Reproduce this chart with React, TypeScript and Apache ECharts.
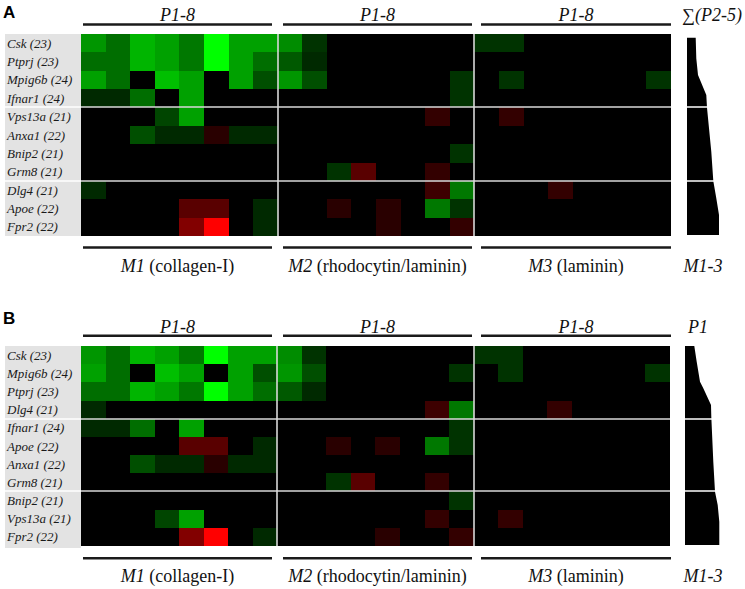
import { useEffect, useRef } from 'react';
import * as echarts from 'echarts';

// ---- categories ----
const matrices = ['M1', 'M2', 'M3'];
const passages = ['P1', 'P2', 'P3', 'P4', 'P5', 'P6', 'P7', 'P8'];
const columns = matrices.flatMap((m) => passages.map((p) => `${m} ${p}`));

// ---- per-gene values (positive = green / up, negative = red / down), 24 columns: M1 P1-8, M2 P1-8, M3 P1-8 ----
const csk = [0.59, 0.43, 0.71, 0.63, 0.47, 1.0, 0.63, 0.63, 0.55, 0.2, 0, 0, 0, 0, 0, 0, 0.2, 0.2, 0, 0, 0, 0, 0, 0];
const ptprj = [0.43, 0.43, 0.71, 0.63, 0.47, 1.0, 0.63, 0.43, 0.35, 0.16, 0, 0, 0, 0, 0, 0, 0, 0, 0, 0, 0, 0, 0, 0];
const mpig6b = [0.63, 0.43, 0, 0.75, 0.63, 0, 0.63, 0.31, 0.59, 0.31, 0, 0, 0, 0, 0, 0.2, 0, 0.2, 0, 0, 0, 0, 0, 0.2];
const ifnar1 = [0.16, 0.16, 0.43, 0, 0.63, 0, 0, 0, 0, 0, 0, 0, 0, 0, 0, 0.2, 0, 0, 0, 0, 0, 0, 0, 0];
const vps13a = [0, 0, 0, 0.27, 0.63, 0, 0, 0, 0, 0, 0, 0, 0, 0, -0.2, 0, 0, -0.2, 0, 0, 0, 0, 0, 0];
const anxa1 = [0, 0, 0.31, 0.16, 0.16, -0.16, 0.16, 0.16, 0, 0, 0, 0, 0, 0, 0, 0, 0, 0, 0, 0, 0, 0, 0, 0];
const bnip2 = [0, 0, 0, 0, 0, 0, 0, 0, 0, 0, 0, 0, 0, 0, 0, 0.2, 0, 0, 0, 0, 0, 0, 0, 0];
const grm8 = [0, 0, 0, 0, 0, 0, 0, 0, 0, 0, 0.2, -0.35, 0, 0, -0.2, 0, 0, 0, 0, 0, 0, 0, 0, 0];
const dlg4 = [0.16, 0, 0, 0, 0, 0, 0, 0, 0, 0, 0, 0, 0, 0, -0.24, 0.47, 0, 0, 0, -0.2, 0, 0, 0, 0];
const apoe = [0, 0, 0, 0, -0.35, -0.35, 0, 0.16, 0, 0, -0.16, 0, -0.16, 0, 0.47, 0.2, 0, 0, 0, 0, 0, 0, 0, 0];
const fpr2 = [0, 0, 0, 0, -0.51, -1.0, 0, 0.16, 0, 0, 0, 0, -0.16, 0, 0, -0.2, 0, 0, 0, 0, 0, 0, 0, 0];

// ---- row order, panel A ----
const labelsA = ['Csk (23)', 'Ptprj (23)', 'Mpig6b (24)', 'Ifnar1 (24)', 'Vps13a (21)', 'Anxa1 (22)', 'Bnip2 (21)', 'Grm8 (21)', 'Dlg4 (21)', 'Apoe (22)', 'Fpr2 (22)'];
const rowsA = [csk, ptprj, mpig6b, ifnar1, vps13a, anxa1, bnip2, grm8, dlg4, apoe, fpr2];
// ---- row order, panel B ----
const labelsB = ['Csk (23)', 'Mpig6b (24)', 'Ptprj (23)', 'Dlg4 (21)', 'Ifnar1 (24)', 'Apoe (22)', 'Anxa1 (22)', 'Grm8 (21)', 'Bnip2 (21)', 'Vps13a (21)', 'Fpr2 (22)'];
const rowsB = [csk, mpig6b, ptprj, dlg4, ifnar1, apoe, anxa1, grm8, bnip2, vps13a, fpr2];

// ---- separators (row / column boundaries) ----
const sepRows = [4, 8];
const sepCols = [8, 16];

// ---- side profiles: [width, row position] ----
const profileA = [[8.7, 0.2], [9.3, 1.33], [11, 2.23], [19.3, 3.32], [20, 4.01], [24.3, 6.41], [26.3, 8.0], [29.3, 8.95], [32, 9.86], [32, 10.95]];
const profileB = [[9.3, 0], [11.7, 0.86], [15, 1.96], [18.3, 2.33], [26, 3.25], [26.3, 3.89], [28.3, 6.36], [30, 8.01], [32.7, 8.75], [34.3, 9.66], [34.3, 10.95]];

// ---- annotation text ----
const topLabel = 'P1-8';
const bottomLabels = [['M1', ' (collagen-I)'], ['M2', ' (rhodocytin/laminin)'], ['M3', ' (laminin)']];
const sideTopA = '∑(P2-5)';
const sideTopB = 'P1';
const sideBottom = 'M1-3';

const SERIF = 'Liberation Serif';
const SANS = 'Liberation Sans';
const SEP = '#d9d9d9';
const PANEL_LEFT = 5;

function toHeat(rows: number[][]) {
  const out: number[][] = [];
  rows.forEach((row, r) => row.forEach((v, c) => out.push([c, r, v])));
  return out;
}

function cellSeries(gridIdx: number, rows: number[][]) {
  return {
    type: 'custom',
    xAxisIndex: gridIdx,
    yAxisIndex: gridIdx,
    z: 2,
    silent: true,
    encode: { x: 0, y: 1 },
    data: toHeat(rows),
    renderItem: (_params: any, api: any) => {
      const p = api.coord([api.value(0), api.value(1)]);
      const s = api.size([1, 1]);
      const color = api.visual('color');
      const x0 = Math.round(p[0] - s[0] / 2);
      const x1 = Math.round(p[0] + s[0] / 2);
      const y0 = Math.round(p[1] - s[1] / 2);
      const y1 = Math.round(p[1] + s[1] / 2);
      return {
        type: 'rect',
        shape: { x: x0, y: y0, width: x1 - x0, height: y1 - y0 },
        style: { fill: color },
      };
    },
  };
}

function sepRowSeries(gridIdx: number) {
  return {
    type: 'custom',
    xAxisIndex: gridIdx,
    yAxisIndex: gridIdx,
    z: 5,
    silent: true,
    data: sepRows.map((r) => [0, r]),
    renderItem: (params: any, api: any) => {
      const r = api.value(1);
      const size = api.size([1, 1]);
      const c = api.coord([0, r]);
      const y = Math.round(c[1] - size[1] / 2);
      const cs = params.coordSys;
      return {
        type: 'group',
        children: [
          { type: 'line', shape: { x1: PANEL_LEFT, y1: y, x2: cs.x, y2: y }, style: { stroke: '#ffffff', lineWidth: 1.6 } },
          { type: 'line', shape: { x1: cs.x, y1: y, x2: cs.x + cs.width, y2: y }, style: { stroke: SEP, lineWidth: 1.6 } },
        ],
      };
    },
  };
}

function sepColSeries(gridIdx: number) {
  return {
    type: 'custom',
    xAxisIndex: gridIdx,
    yAxisIndex: gridIdx,
    z: 5,
    silent: true,
    data: sepCols.map((c) => [c, 0]),
    renderItem: (params: any, api: any) => {
      const ci = api.value(0);
      const size = api.size([1, 1]);
      const p = api.coord([ci, 0]);
      const x = Math.round(p[0] - size[0] / 2);
      const cs = params.coordSys;
      return {
        type: 'line',
        shape: { x1: x, y1: cs.y, x2: x, y2: cs.y + cs.height },
        style: { stroke: SEP, lineWidth: 1.6 },
      };
    },
  };
}

function profileSeries(gridIdx: number, profile: number[][]) {
  return {
    type: 'custom',
    xAxisIndex: gridIdx,
    yAxisIndex: gridIdx,
    z: 4,
    silent: true,
    data: profile,
    renderItem: (params: any, api: any) => {
      if (params.dataIndex !== 0) return null;
      const pts = profile.map((p) => api.coord(p));
      const top = api.coord([0, profile[0][1]]);
      const bot = api.coord([0, profile[profile.length - 1][1]]);
      const lines = sepRows.map((r) => {
        const a = api.coord([0, r]);
        const b = api.coord([40, r]);
        const y = Math.round(a[1]);
        return {
          type: 'line',
          shape: { x1: a[0], y1: y, x2: b[0], y2: y },
          style: { stroke: '#ffffff', lineWidth: 1.6 },
        };
      });
      return {
        type: 'group',
        children: [{ type: 'polygon', shape: { points: [top, ...pts, bot] }, style: { fill: '#000' } }, ...lines],
      };
    },
  };
}

function text(x: number, y: number, t: string, opts: any = {}) {
  return {
    type: 'text',
    x,
    y,
    z: 10,
    style: {
      text: t,
      fontFamily: SERIF,
      fontSize: 18,
      fontStyle: 'italic',
      fill: '#111',
      textAlign: 'center',
      align: 'center',
      textVerticalAlign: 'middle',
      verticalAlign: 'middle',
      ...opts,
    },
  };
}

function hline(x1: number, x2: number, y: number) {
  return { type: 'line', z: 10, shape: { x1, y1: y, x2, y2: y }, style: { stroke: '#1a1a1a', lineWidth: 2.6 } };
}

function panelDecor(letter: string, letterY: number, top: number, bottom: number, topLineY: number, botLineY: number, topTextY: number, botTextY: number, sideTop: string, sideTopX: number) {
  const blocks = [[83, 272], [283, 472], [481, 671]];
  const els: any[] = [];
  els.push({ type: 'rect', z: -10, shape: { x: PANEL_LEFT, y: top, width: 76, height: bottom - top }, style: { fill: '#e3e3e3' } });
  els.push(text(3, letterY, letter, { fontFamily: SANS, fontStyle: 'normal', fontWeight: 'bold', fontSize: 17, textAlign: 'left', align: 'left', textVerticalAlign: 'top', verticalAlign: 'top', fill: '#000' }));
  blocks.forEach(([a, b], i) => {
    els.push(hline(a, b, topLineY));
    els.push(hline(a, b, botLineY));
    els.push(text((a + b) / 2, topTextY, topLabel));
    const [m, rest] = bottomLabels[i];
    els.push({
      type: 'text',
      x: (a + b) / 2,
      y: botTextY,
      z: 10,
      style: {
        text: `{i|${m}}{n|${rest}}`,
        fontFamily: SERIF,
        fontSize: 18,
        fill: '#111',
        textAlign: 'center',
        align: 'center',
        textVerticalAlign: 'middle',
        verticalAlign: 'middle',
        rich: {
          i: { fontFamily: SERIF, fontSize: 18, fontStyle: 'italic', fill: '#111' },
          n: { fontFamily: SERIF, fontSize: 18, fontStyle: 'normal', fill: '#111' },
        },
      },
    });
  });
  els.push(text(sideTopX, topTextY, sideTop));
  els.push(text(703, botTextY, sideBottom));
  return els;
}

function heatAxisY(gridIndex: number, labels: string[]) {
  return {
    gridIndex,
    type: 'category',
    data: labels,
    inverse: true,
    axisLine: { show: false },
    axisTick: { show: false },
    splitLine: { show: false },
    splitArea: { show: false },
    axisLabel: {
      fontFamily: SERIF,
      fontStyle: 'italic',
      fontSize: 13,
      color: '#1a1a1a',
      align: 'left',
      margin: 74,
    },
  };
}

export default function App() {
  const ref = useRef<HTMLDivElement>(null);
  useEffect(() => {
    if (!ref.current) return;
    const chart = echarts.init(ref.current, undefined, { renderer: 'svg' });
    const gridBase = { show: true, backgroundColor: '#000000', borderWidth: 0 };
    const option: any = {
      animation: false,
      backgroundColor: '#ffffff',
      grid: [
        { ...gridBase, left: 81, top: 34, width: 590, height: 202 },
        { ...gridBase, left: 81, top: 346, width: 589, height: 200 },
        { left: 687, top: 34, width: 40, height: 202 },
        { left: 685, top: 346, width: 40, height: 200 },
      ],
      xAxis: [
        { gridIndex: 0, type: 'category', data: columns, show: false, splitLine: { show: false } },
        { gridIndex: 1, type: 'category', data: columns, show: false, splitLine: { show: false } },
        { gridIndex: 2, type: 'value', min: 0, max: 40, show: false },
        { gridIndex: 3, type: 'value', min: 0, max: 40, show: false },
      ],
      yAxis: [
        heatAxisY(0, labelsA),
        heatAxisY(1, labelsB),
        { gridIndex: 2, type: 'value', min: 0, max: 11, inverse: true, show: false },
        { gridIndex: 3, type: 'value', min: 0, max: 11, inverse: true, show: false },
      ],
      visualMap: {
        type: 'continuous',
        show: false,
        min: -1,
        max: 1,
        dimension: 2,
        seriesIndex: [0, 1],
        inRange: { color: ['#ff0000', '#000000', '#00ff00'] },
      },
      series: [
        cellSeries(0, rowsA),
        cellSeries(1, rowsB),
        sepRowSeries(0),
        sepColSeries(0),
        sepRowSeries(1),
        sepColSeries(1),
        profileSeries(2, profileA),
        profileSeries(3, profileB),
      ],
      graphic: {
        elements: [
          ...panelDecor('A', 4, 34, 236, 24.5, 247.5, 15, 265.5, sideTopA, 712),
          ...panelDecor('B', 310, 346, 548, 335.7, 558.3, 327, 576, sideTopB, 698),
        ],
      },
    };
    chart.setOption(option);
    return () => chart.dispose();
  }, []);
  return <div ref={ref} style={{ position: 'fixed', left: 0, top: 0, width: 745, height: 589 }} />;
}
